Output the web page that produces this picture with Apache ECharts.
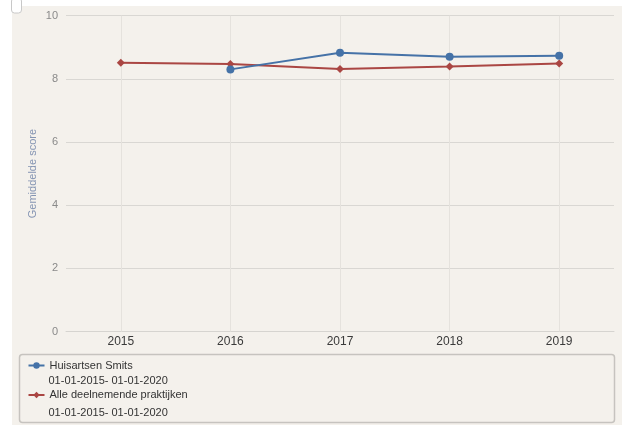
<!DOCTYPE html>
<html>
<head>
<meta charset="utf-8">
<script src="https://cdn.jsdelivr.net/npm/echarts@6/dist/echarts.min.js"></script>
<style>
html,body{margin:0;padding:0;background:#ffffff;}
#bg{position:absolute;left:12px;top:6px;width:610px;height:419px;background:#f4f1ec;}
#chart{position:absolute;left:0;top:0;width:628px;height:432px;}
</style>
</head>
<body>
<div id="bg"></div>
<div id="chart"></div>
<script>
const categories = ['2015', '2016', '2017', '2018', '2019'];
const seriesNames = ['Huisartsen Smits', 'Alle deelnemende praktijken'];
const periodLabels = ['01-01-2015- 01-01-2020', '01-01-2015- 01-01-2020'];
const smitsValues = [null, 8.30, 8.83, 8.70, 8.73];
const alleValues = [8.51, 8.47, 8.31, 8.39, 8.49];
const yTicks = [0, 2, 4, 6, 8, 10];
const yAxisName = 'Gemiddelde score';

const FONT = 'Liberation Sans, Arial, sans-serif';
const chart = echarts.init(document.getElementById('chart'), null, {renderer: 'canvas'});

const legendBase = {
  orient: 'vertical',
  left: 27.5,
  padding: 0,
  itemWidth: 16,
  itemHeight: 8,
  textStyle: {color: '#333333', fontSize: 11, fontFamily: FONT}
};

const option = {
  backgroundColor: 'transparent',
  animation: false,
  textStyle: {fontFamily: FONT},
  grid: {left: 66, right: 14, top: 15.7, bottom: 100.5, containLabel: false},
  xAxis: {
    type: 'category',
    data: categories,
    boundaryGap: true,
    axisLine: {show: true, lineStyle: {color: '#d6d4d0', width: 1}},
    axisTick: {show: true, alignWithLabel: true, inside: true, length: 315.8,
      lineStyle: {color: '#e5e2dd', width: 1}},
    axisLabel: {color: '#3a3a3a', fontSize: 12, margin: 4, fontFamily: FONT},
    splitLine: {show: false}
  },
  yAxis: {
    type: 'value',
    min: yTicks[0],
    max: yTicks[yTicks.length - 1],
    interval: 2,
    name: yAxisName,
    nameLocation: 'middle',
    nameGap: 28,
    nameMoveOverlap: false,
    nameTextStyle: {color: '#8595b3', fontSize: 11, fontFamily: FONT},
    axisLine: {show: false},
    axisTick: {show: false},
    axisLabel: {color: '#8a8a8a', fontSize: 11, margin: 8, fontFamily: FONT},
    splitLine: {show: true, lineStyle: {color: '#d9d7d3', width: 1}}
  },
  legend: [
    Object.assign({}, legendBase, {top: 360, data: [seriesNames[0]]}),
    Object.assign({}, legendBase, {top: 389.5, data: [seriesNames[1]]})
  ],
  series: [
    {
      name: seriesNames[0],
      type: 'line',
      data: smitsValues,
      connectNulls: false,
      symbol: 'circle',
      symbolSize: 8,
      lineStyle: {width: 2, color: '#4572a7'},
      itemStyle: {color: '#4572a7'},
      z: 3
    },
    {
      name: seriesNames[1],
      type: 'line',
      data: alleValues,
      symbol: 'diamond',
      symbolSize: 8,
      lineStyle: {width: 2, color: '#aa4643'},
      itemStyle: {color: '#aa4643'},
      z: 2
    }
  ],
  graphic: [
    {type: 'rect', shape: {x: 19.5, y: 354.5, width: 595, height: 68, r: 3},
      style: {fill: 'none', stroke: '#c6c3bf', lineWidth: 1.5}, silent: true},
    {type: 'rect', shape: {x: 11.5, y: -2, width: 10, height: 15, r: 3},
      style: {fill: '#ffffff', stroke: '#c8c8c8', lineWidth: 1}, silent: true},
    {type: 'text', x: 48.5, y: 380.5, style: {text: periodLabels[0], fill: '#333333', fontSize: 11,
      fontFamily: FONT, verticalAlign: 'middle', align: 'left'}, silent: true},
    {type: 'text', x: 48.5, y: 412.5, style: {text: periodLabels[1], fill: '#333333', fontSize: 11,
      fontFamily: FONT, verticalAlign: 'middle', align: 'left'}, silent: true}
  ]
};
chart.setOption(option);
</script>
</body>
</html>
